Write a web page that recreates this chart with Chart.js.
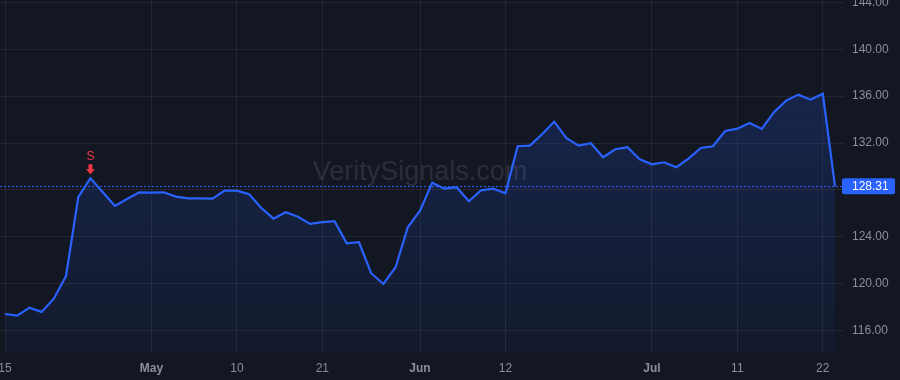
<!DOCTYPE html>
<html>
<head>
<meta charset="utf-8">
<script src="https://cdn.jsdelivr.net/npm/chart.js@4.4.1/dist/chart.umd.min.js"></script>
<style>
  html, body { margin: 0; padding: 0; background: #131722; }
  #wrap { width: 900px; height: 380px; position: relative; }
</style>
</head>
<body>
<div id="wrap"><canvas id="chart"></canvas></div>
<script>
// trading days, Apr 15 -> Jul 23
const dates = [
  'Apr 15','Apr 16','Apr 17','Apr 18','Apr 19','Apr 22','Apr 23','Apr 24','Apr 25','Apr 26','Apr 29','Apr 30',
  'May 1','May 2','May 3','May 6','May 7','May 8','May 9','May 10','May 13','May 14','May 15','May 16','May 17',
  'May 20','May 21','May 22','May 23','May 24','May 28','May 29','May 30','May 31',
  'Jun 3','Jun 4','Jun 5','Jun 6','Jun 7','Jun 10','Jun 11','Jun 12','Jun 13','Jun 14','Jun 17','Jun 18',
  'Jun 20','Jun 21','Jun 24','Jun 25','Jun 26','Jun 27','Jun 28',
  'Jul 1','Jul 2','Jul 3','Jul 5','Jul 8','Jul 9','Jul 10','Jul 11','Jul 12','Jul 15','Jul 16','Jul 17',
  'Jul 18','Jul 19','Jul 22','Jul 23'
];

const prices = [
  117.42, 117.28, 117.96, 117.60, 118.73, 120.67, 127.38, 129.00, 127.83, 126.64,
  127.23, 127.80, 127.77, 127.80, 127.43, 127.29, 127.29, 127.26, 127.94, 127.94,
  127.63, 126.46, 125.55, 126.10, 125.72, 125.10, 125.25, 125.33, 123.45, 123.54,
  120.90, 119.98, 121.41, 124.82, 126.23, 128.62, 128.11, 128.23, 127.04, 127.97,
  128.11, 127.72, 131.73, 131.78, 132.75, 133.83, 132.41, 131.78, 131.98, 130.79,
  131.47, 131.64, 130.62, 130.19, 130.36, 129.94, 130.67, 131.58, 131.73, 133.03,
  133.23, 133.71, 133.20, 134.63, 135.62, 136.13, 135.70, 136.21, 128.31
];

// x axis ticks (index into dates) and their labels
const tickIdx    = [0, 12, 19, 26, 34, 41, 53, 60, 67];
const tickLabels = ['15', 'May', '10', '21', 'Jun', '12', 'Jul', '11', '22'];
const monthLabels = ['May', 'Jun', 'Jul'];

const yTicks = [116, 120, 124, 128, 132, 136, 140, 144];

const signalIdx  = 7;
const signalText = 'S';
const lastPrice  = 128.31;
const watermark  = 'VeritySignals.com';

const FONT = '"Liberation Sans", Arial, sans-serif';
const TEXT = '#8c8f99';
const GRID = 'rgba(255,255,255,0.065)';
const BLUE = '#2962ff';
const RED  = '#f23645';

const overlay = {
  id: 'overlay',
  beforeDatasetsDraw(chart) {
    const { ctx, chartArea: a, scales: { y } } = chart;
    ctx.save();
    // watermark
    ctx.font = '27px ' + FONT;
    ctx.fillStyle = 'rgba(255,255,255,0.1)';
    ctx.textAlign = 'center';
    ctx.textBaseline = 'middle';
    ctx.fillText(watermark, (a.left + a.right) / 2, (a.top + a.bottom) / 2 - 3);
    // last price dotted line
    const py = Math.round(y.getPixelForValue(lastPrice)) + 0.5;
    ctx.strokeStyle = BLUE;
    ctx.lineWidth = 1;
    ctx.setLineDash([2, 2]);
    ctx.beginPath();
    ctx.moveTo(a.left, py);
    ctx.lineTo(a.right + 2, py);
    ctx.stroke();
    ctx.restore();
  },
  afterDraw(chart) {
    const { ctx, chartArea: a, scales: { x, y } } = chart;
    ctx.save();
    // price axis labels
    ctx.font = '12px ' + FONT;
    ctx.fillStyle = TEXT;
    ctx.textAlign = 'left';
    ctx.textBaseline = 'middle';
    y.ticks.forEach(t => {
      ctx.fillText(t.value.toFixed(2), a.right + 12, y.getPixelForValue(t.value));
    });
    // last price badge
    const py = y.getPixelForValue(lastPrice);
    ctx.fillStyle = BLUE;
    ctx.beginPath();
    ctx.roundRect(a.right + 2, py - 8, 53, 16, 2);
    ctx.fill();
    ctx.fillStyle = '#ffffff';
    ctx.fillText(lastPrice.toFixed(2), a.right + 12, py + 0.5);
    // sell signal marker
    const sx = x.getPixelForValue(signalIdx);
    const sy = y.getPixelForValue(prices[signalIdx]);
    ctx.fillStyle = RED;
    ctx.beginPath();
    ctx.rect(sx - 2, sy - 14, 4, 6);
    ctx.moveTo(sx - 4.5, sy - 9);
    ctx.lineTo(sx + 4.5, sy - 9);
    ctx.lineTo(sx, sy - 4);
    ctx.closePath();
    ctx.fill();
    ctx.font = '12px ' + FONT;
    ctx.textAlign = 'center';
    ctx.fillText(signalText, sx, sy - 22);
    ctx.restore();
  }
};

new Chart(document.getElementById('chart'), {
  type: 'line',
  data: {
    labels: dates,
    datasets: [{
      data: prices.map((v, i) => ({ x: i, y: v })),
      borderColor: BLUE,
      borderWidth: 2.2,
      pointRadius: 0,
      tension: 0,
      fill: 'start',
      backgroundColor: c => {
        const a = c.chart.chartArea;
        if (!a) return 'rgba(41,98,255,0.12)';
        const g = c.chart.ctx.createLinearGradient(0, a.top, 0, a.bottom);
        g.addColorStop(0, 'rgba(41,98,255,0.24)');
        g.addColorStop(1, 'rgba(41,98,255,0.05)');
        return g;
      }
    }]
  },
  options: {
    responsive: true,
    maintainAspectRatio: false,
    animation: false,
    layout: { padding: 0 },
    plugins: { legend: { display: false }, tooltip: { enabled: false } },
    scales: {
      x: {
        type: 'linear',
        min: -0.41,
        max: 68.41,
        afterBuildTicks: s => { s.ticks = tickIdx.map(v => ({ value: v })); },
        afterFit: s => { s.height = 28; s.paddingLeft = 0; s.paddingRight = 0; },
        ticks: {
          autoSkip: false,
          maxRotation: 0,
          padding: 9,
          color: TEXT,
          font: c => ({
            family: FONT,
            size: 12,
            weight: monthLabels.includes(tickLabels[c.index]) ? 'bold' : 'normal'
          }),
          callback: (v, i) => tickLabels[i]
        },
        grid: { color: GRID, drawTicks: false },
        border: { display: false }
      },
      y: {
        type: 'linear',
        position: 'right',
        min: 114.18,
        max: 144.2,
        afterBuildTicks: s => { s.ticks = yTicks.map(v => ({ value: v })); },
        afterFit: s => { s.width = 60; s.paddingTop = 0; s.paddingBottom = 0; },
        ticks: { display: false },
        grid: { color: GRID, tickLength: 4 },
        border: { display: false }
      }
    }
  },
  plugins: [overlay]
});
</script>
</body>
</html>
